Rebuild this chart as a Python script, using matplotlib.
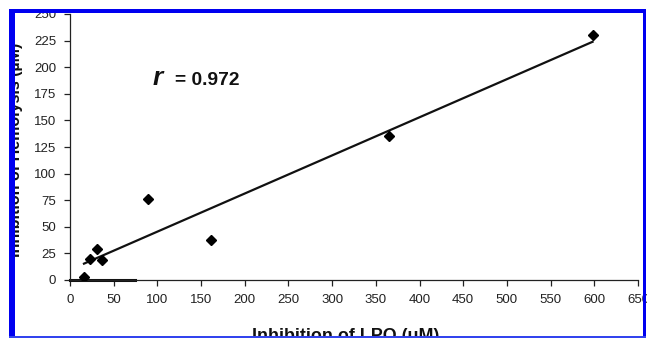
import matplotlib
matplotlib.use("Agg")
import matplotlib.pyplot as plt
import numpy as np
from matplotlib.patches import Rectangle

plt.rcParams['font.family'] = ['Liberation Sans', 'DejaVu Sans']

lpo = [16, 23, 31, 37, 89, 161, 365, 598]
hemolysis = [3, 20, 29, 19, 76, 38, 135, 230]
x_ticks = list(range(0, 651, 50))
y_ticks = list(range(0, 251, 25))
r_value = "0.972"

W, H = 647, 340
fig = plt.figure(figsize=(W / 100, H / 100), dpi=100)
x0, x1 = 70, 638
y0, y1 = 280, 14
ax = fig.add_axes([x0 / W, (H - y0) / H, (x1 - x0) / W, (y0 - y1) / H])

ax.plot(lpo, hemolysis, linestyle='none', marker='D', ms=5.5, color='black', zorder=3)
coef = np.polyfit(lpo, hemolysis, 1)
xs = np.array([min(lpo), max(lpo)])
ax.plot(xs, np.polyval(coef, xs), color='#111111', lw=1.6, zorder=2)
ax.plot([0, 74], [0, 0], color='#111111', lw=2.2, zorder=2, clip_on=False)

ax.set_xlim(0, 650)
ax.set_ylim(0, 250)
ax.set_xticks(x_ticks)
ax.set_yticks(y_ticks)
ax.tick_params(direction='out', length=4, width=0.9, labelsize=9.5, colors='#222222', pad=6)
for s in ['top', 'right']:
    ax.spines[s].set_visible(False)
for s in ['left', 'bottom']:
    ax.spines[s].set_linewidth(0.9)
    ax.spines[s].set_color('#222222')

ax.set_xlabel('Inhibition of LPO (uM)', fontsize=12.9, fontweight='bold', color='#111111')
ax.xaxis.label.set_va('baseline')
ax.xaxis.set_label_coords((346 - x0) / (x1 - x0), -(341 - y0) / (y0 - y1))
ax.set_ylabel('Inhibition of Hemolysis (\u00b5M)', fontsize=11.5, fontweight='bold', color='#111111')
ax.yaxis.set_label_coords(-(x0 - 23.5) / (x1 - x0), (y0 - 150) / (y0 - y1))

ax.text((153 - x0) / (x1 - x0), (y0 - 85) / (y0 - y1), 'r', fontsize=19, fontweight='bold',
        style='italic', transform=ax.transAxes, va='baseline', ha='left', color='#111111')
ax.text((175 - x0) / (x1 - x0), (y0 - 85) / (y0 - y1), '= ' + r_value, fontsize=13.8,
        fontweight='bold', transform=ax.transAxes, va='baseline', ha='left', color='#111111')

def px_rect(l, t, r, b, color):
    fig.add_artist(Rectangle((l / W, (H - b) / H), (r - l) / W, (b - t) / H,
                             transform=fig.transFigure, facecolor=color,
                             edgecolor='none', zorder=10))

# white outside frame
px_rect(0, 0, W, 9, 'white')
px_rect(0, 0, 9, H, 'white')
px_rect(0, 338, W, H, 'white')
# blue frame
blue = '#0000f0'
px_rect(9, 9, W - 1, 13, blue)
px_rect(9, 9, 15, 338, blue)
px_rect(643, 9, 646, 338, blue)
px_rect(9, 336, 646, 338, '#3344ee')

fig.savefig('out.png', dpi=100)
